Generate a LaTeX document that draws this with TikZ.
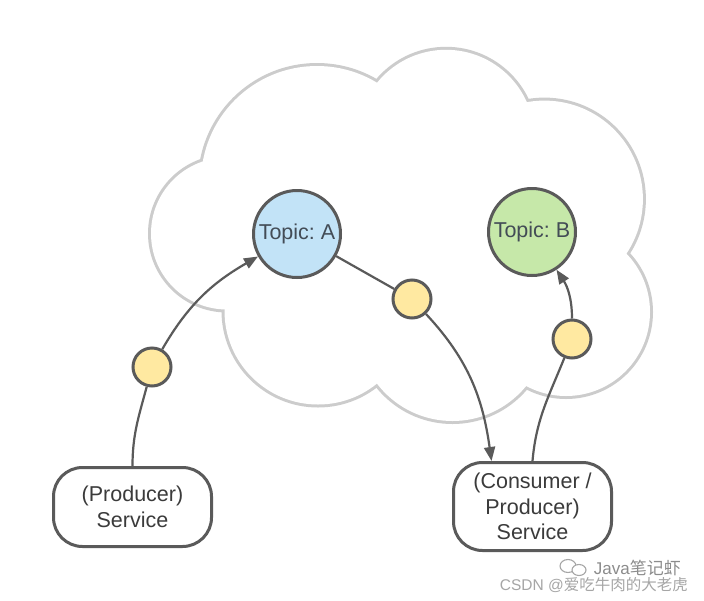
\documentclass[tikz,border=0pt]{standalone}
\usepackage{fontspec}
\setmainfont{Liberation Sans}
\newfontfamily\cjk{Noto Sans CJK SC}
\usetikzlibrary{arrows.meta}
\definecolor{strokec}{HTML}{5A5A5A}
\definecolor{cloudc}{HTML}{CCCCCC}
\definecolor{blueA}{HTML}{C2E3F7}
\definecolor{greenB}{HTML}{C6E8A9}
\definecolor{yel}{HTML}{FFE9A1}
\definecolor{txt}{HTML}{3B3B3B}
\definecolor{txttopic}{HTML}{434C56}
\definecolor{wmA}{HTML}{8C8C8C}
\definecolor{wmB}{HTML}{A6A6A6}
\frenchspacing
\begin{document}
\begin{tikzpicture}[x=1pt,y=1pt,
  topic/.style={circle, draw=strokec, line width=3pt, minimum size=87pt, inner sep=0pt, text=txttopic, font=\fontsize{21.5}{26}\selectfont},
  msg/.style={circle, draw=strokec, line width=3pt, fill=yel, minimum size=38pt, inner sep=0pt},
  svc/.style={rectangle, rounded corners=29pt, draw=strokec, line width=3pt, fill=white, minimum width=158pt, inner sep=0pt, align=center, text=txt, font=\fontsize{21.5}{25.5}\selectfont},
  conn/.style={draw=strokec, line width=2.2pt},
  arr/.style={-{Triangle[length=14pt,width=11pt]}},
  cloudline/.style={draw=cloudc, line width=6pt},
  wmtext/.style={anchor=east, inner sep=0pt}
]
\fill[white] (0,0) rectangle (704,-600);
\useasboundingbox (0,0) rectangle (704,-600);

% cloud: union of lobes
\foreach \cx/\cy/\r in {227/233.5/76, 317/182/116, 446/138.4/88.6, 544.4/199.1/98.5, 566/312/84, 452.5/326/95, 318/311/93.5}
  \draw[cloudline] (\cx,-\cy) circle (\r);
\foreach \cx/\cy/\r in {227/233.5/76, 317/182/116, 446/138.4/88.6, 544.4/199.1/98.5, 566/312/84, 452.5/326/95, 318/311/93.5}
  \fill[white] (\cx,-\cy) circle (\r);
\fill[white] (209,-166) -- (377,-90) -- (523,-108) -- (620,-252) -- (522,-379) -- (378,-378) -- (233,-306) -- cycle;

% nodes
\node[topic, fill=blueA] (topA) at (297,-234) {Topic: A};
\node[topic, fill=greenB] (topB) at (532,-232) {Topic: B};
\node[svc, minimum height=79pt] (prod) at (132.5,-507) {(Producer)\\Service};
\node[svc, minimum height=88pt] (cons) at (532.5,-506.5) {(Consumer /\\Producer)\\Service};
\node[msg] (m1) at (152,-367) {};
\node[msg] (m2) at (412,-299) {};
\node[msg] (m3) at (572,-339) {};

% connectors
\draw[conn] (prod.north) to[out=90, in=-105] (m1);
\draw[conn, arr] (m1) to[out=60, in=-150] (topA);
\draw[conn] (topA) -- (m2);
\draw[conn, arr] (m2) to[out=-47, in=98] (cons.132);
\draw[conn] (cons.north) to[out=85, in=-112] (m3);
\draw[conn, arr] (m3) to[out=90, in=-57] (topB);

% watermark
\draw[wmB, line width=1.1pt] (568,-566) ellipse (8 and 6.5);
\draw[wmB, line width=1.1pt, fill=white] (579,-570) ellipse (7 and 5.5);
\node[wmtext, text=wmA, font=\fontsize{17}{19}\selectfont] (wm1) at (681,-568) {Java{\cjk 笔记虾}};
\node[wmtext, text=wmB, font=\fontsize{15.5}{17}\selectfont] (wm2) at (688,-585) {CSDN @{\cjk 爱吃牛肉的大老虎}};
\end{tikzpicture}
\end{document}
